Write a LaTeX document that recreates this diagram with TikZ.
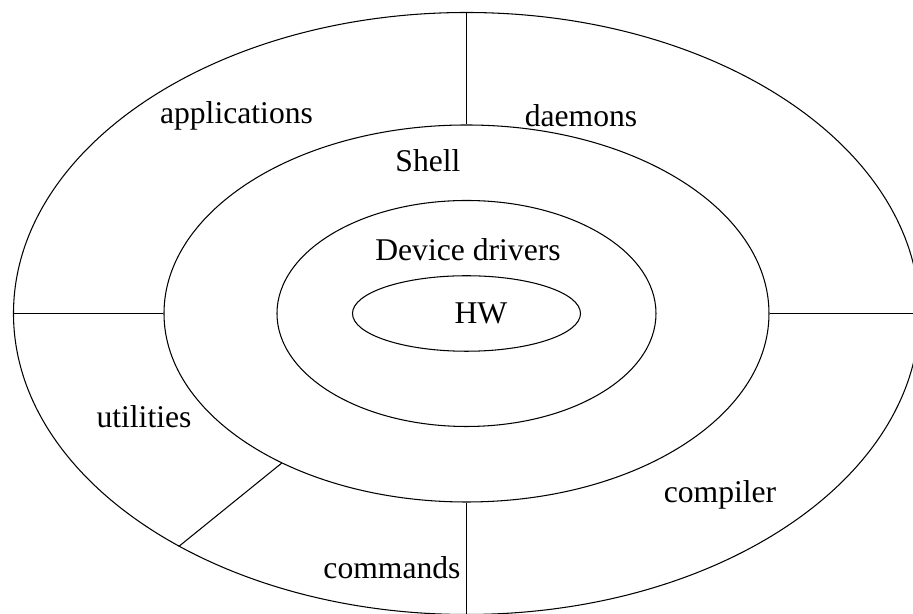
\documentclass[tikz,border=0pt]{standalone}
\usepackage{fontspec}
\setmainfont{Liberation Serif}
\usetikzlibrary{shapes.geometric}
\begin{document}
\begin{tikzpicture}[line width=0.6pt,
  ring/.style={draw,ellipse,inner sep=0pt},
  lbl/.style={font=\fontsize{18}{21}\selectfont,inner sep=0pt}]

\clip (-9.33,-6.01) rectangle (8.93,6.27);

\node[ring,minimum width=18.12cm,minimum height=12.04cm] (os) at (0,0) {};
\node[ring,minimum width=12.1cm,minimum height=7.54cm] (shell) at (0,0) {};
\node[ring,minimum width=7.58cm,minimum height=4.52cm] (drv) at (0,0) {};
\node[ring,minimum width=4.56cm,minimum height=1.51cm] (hw) at (0,0) {};

\draw (shell.north)--(os.north);
\draw (shell.west)--(os.west);
\draw (shell.east)--(os.east);
\draw (shell.south)--(os.south);
\draw (shell.219)--(os.219);

\node[lbl] (apps) at (-4.6,3.95) {applications};
\node[lbl] (daemons) at (2.29,3.95) {daemons};
\node[lbl] (shelltxt) at (-0.77,3.05) {Shell};
\node[lbl] (drvtxt) at (0.03,1.27) {Device drivers};
\node[lbl] (hwtxt) at (0.29,0) {HW};
\node[lbl] (util) at (-6.45,-2.07) {utilities};
\node[lbl] (comp) at (5.07,-3.63) {compiler};
\node[lbl] (cmds) at (-1.49,-5.09) {commands};

\end{tikzpicture}
\end{document}
